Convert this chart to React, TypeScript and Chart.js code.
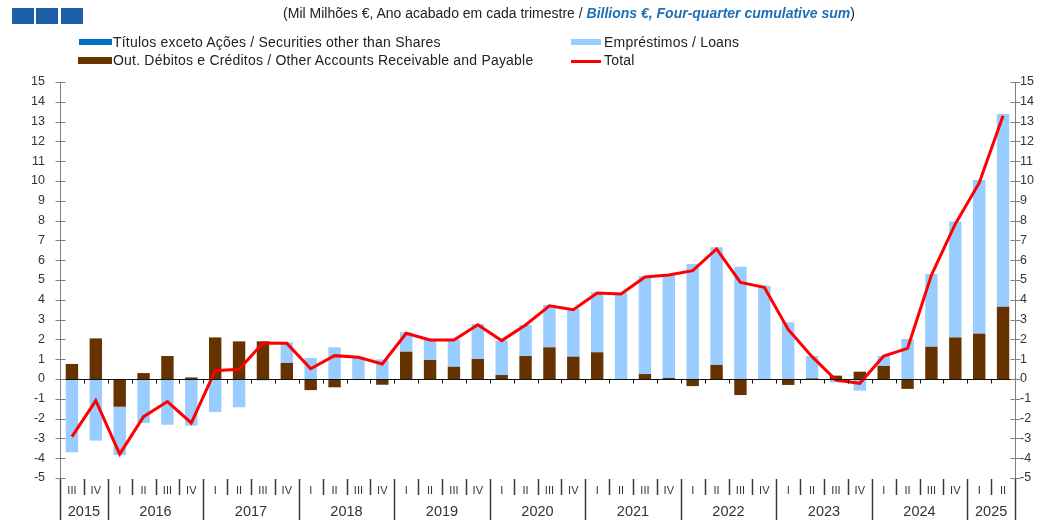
import React, { useEffect, useRef } from 'react';
import { Chart, registerables } from 'chart.js';

Chart.register(...registerables);

const quarterLabels = [
  'III', 'IV',
  'I', 'II', 'III', 'IV',
  'I', 'II', 'III', 'IV',
  'I', 'II', 'III', 'IV',
  'I', 'II', 'III', 'IV',
  'I', 'II', 'III', 'IV',
  'I', 'II', 'III', 'IV',
  'I', 'II', 'III', 'IV',
  'I', 'II', 'III', 'IV',
  'I', 'II', 'III', 'IV',
  'I', 'II',
];
const yearLabels = ['2015', '2016', '2017', '2018', '2019', '2020', '2021', '2022', '2023', '2024', '2025'];
const yearQuarterCounts = [2, 4, 4, 4, 4, 4, 4, 4, 4, 4, 2];

const securities = [
  0, 0, 0, 0, 0, 0, 0, 0, 0, 0,
  0, 0, 0, 0, 0, 0, 0, 0, 0, 0,
  0, 0, 0, 0, 0, 0, 0, 0, 0, 0,
  0, 0, 0, 0, 0, 0, 0, 0, 0, 0,
];
const otherAccounts = [
  0.76, 2.05, -1.40, 0.30, 1.16, 0.08, 2.10, 1.90, 1.90, 0.81,
  -0.56, -0.42, -0.05, -0.29, 1.38, 0.96, 0.62, 1.01, 0.20, 1.16,
  1.60, 1.13, 1.35, -0.05, 0.25, 0.05, -0.36, 0.71, -0.81, -0.05,
  -0.30, 0.03, 0.17, 0.37, 0.66, -0.50, 1.63, 2.10, 2.29, 3.65,
];
const loans = [
  -3.70, -3.11, -2.44, -2.22, -2.31, -2.36, -1.67, -1.43, -0.08, 1.04,
  1.06, 1.60, 1.06, 0.99, 0.98, 1.01, 1.38, 1.77, 1.74, 1.57,
  2.14, 2.41, 3.03, 4.35, 4.95, 5.20, 5.81, 5.94, 5.67, 4.71,
  2.86, 1.13, -0.17, -0.59, 0.50, 2.02, 3.67, 5.85, 7.76, 9.73,
];
const total = [
  -2.91, -1.09, -3.79, -1.90, -1.14, -2.22, 0.42, 0.49, 1.82, 1.80,
  0.52, 1.18, 1.10, 0.76, 2.31, 1.97, 1.97, 2.74, 1.94, 2.73,
  3.70, 3.50, 4.34, 4.29, 5.15, 5.25, 5.47, 6.57, 4.88, 4.63,
  2.50, 1.13, -0.05, -0.22, 1.16, 1.55, 5.25, 7.83, 9.90, 13.30,
];

const Y_MIN = -5;
const Y_MAX = 15;

const categories = quarterLabels.map((q, i) => `${i}-${q}`);

const FONT = "'Liberation Sans', Arial, sans-serif";

const axesPlugin = {
  id: 'customAxes',
  afterDatasetsDraw(chart: any) {
    const { ctx, chartArea } = chart;
    const xs = chart.scales.x;
    const ys = chart.scales.y;
    const n = quarterLabels.length;
    const half = (xs.getPixelForValue(1) - xs.getPixelForValue(0)) / 2;
    const L = Math.round(chartArea.left) + 0.5;
    const R = Math.round(chartArea.right) + 0.5;
    const top = ys.getPixelForValue(Y_MAX);
    const bottom = ys.getPixelForValue(Y_MIN);
    const seg = (x1: number, y1: number, x2: number, y2: number) => {
      ctx.beginPath();
      ctx.moveTo(x1, y1);
      ctx.lineTo(x2, y2);
      ctx.stroke();
    };
    ctx.save();
    // zero line
    const y0 = Math.round(ys.getPixelForValue(0)) + 0.5;
    ctx.strokeStyle = '#111';
    ctx.lineWidth = 1;
    seg(L, y0, R, y0);
    for (let i = 1; i < n; i++) {
      const bx = Math.round(xs.getPixelForValue(i) - half) + 0.5;
      seg(bx, y0, bx, y0 + 4);
    }
    // y axes
    ctx.strokeStyle = '#808080';
    ctx.lineWidth = 1;
    seg(L, top, L, bottom);
    seg(R, top, R, bottom);
    for (let v = Y_MIN; v <= Y_MAX; v++) {
      const py = Math.round(ys.getPixelForValue(v)) + 0.5;
      seg(L - 5, py, L + 5, py);
      seg(R - 5, py, R + 5, py);
    }
    // x axis separators and labels
    const yearStarts = new Set<number>();
    let acc = 0;
    yearStarts.add(0);
    yearQuarterCounts.forEach((c) => {
      acc += c;
      yearStarts.add(acc);
    });
    ctx.strokeStyle = '#3a3a3a';
    ctx.lineWidth = 1.5;
    for (let i = 0; i <= n; i++) {
      const bx = Math.round(xs.getPixelForValue(0) - half + i * 2 * half) + 0.5;
      const isYear = yearStarts.has(i);
      seg(bx, bottom + 1, bx, isYear ? 520 : bottom + 17);
    }
    ctx.fillStyle = '#333';
    ctx.textAlign = 'center';
    ctx.textBaseline = 'middle';
    ctx.font = `11px ${FONT}`;
    for (let i = 0; i < n; i++) {
      ctx.fillText(quarterLabels[i], xs.getPixelForValue(i), bottom + 13);
    }
    ctx.font = `14.5px ${FONT}`;
    let start = 0;
    yearQuarterCounts.forEach((c, k) => {
      const x1 = xs.getPixelForValue(start) - half;
      const x2 = xs.getPixelForValue(start + c - 1) + half;
      ctx.fillText(yearLabels[k], (x1 + x2) / 2, bottom + 34);
      start += c;
    });
    ctx.restore();
  },
};

export default function App() {
  const canvasRef = useRef<HTMLCanvasElement | null>(null);

  useEffect(() => {
    if (!canvasRef.current) return;
    const tickFont = { family: FONT, size: 12.5 };
    const chart = new Chart(canvasRef.current, {
      type: 'bar',
      data: {
        labels: categories,
        datasets: [
          {
            type: 'line',
            label: 'Total',
            data: total,
            borderColor: '#ff0000',
            backgroundColor: '#ff0000',
            borderWidth: 3,
            pointRadius: 0,
            tension: 0,
            stack: 'line',
            order: 0,
          } as any,
          {
            label: 'Títulos exceto Ações / Securities other than Shares',
            data: securities,
            backgroundColor: '#0070c0',
            stack: 'bars',
            order: 1,
          },
          {
            label: 'Out. Débitos e Créditos / Other Accounts Receivable and Payable',
            data: otherAccounts,
            backgroundColor: '#663300',
            stack: 'bars',
            order: 1,
          },
          {
            label: 'Empréstimos / Loans',
            data: loans,
            backgroundColor: '#99ccff',
            stack: 'bars',
            order: 1,
          },
        ],
      },
      options: {
        responsive: false,
        animation: false,
        layout: { padding: { top: 82, bottom: 42, left: 0, right: 0 } },
        datasets: { bar: { categoryPercentage: 1, barPercentage: 0.52 } },
        plugins: { legend: { display: false }, tooltip: { enabled: false } },
        scales: {
          x: { type: 'category', display: false, stacked: true },
          y: {
            position: 'left',
            stacked: true,
            min: Y_MIN,
            max: Y_MAX,
            ticks: { stepSize: 1, padding: 15, font: tickFont, color: '#333' },
            grid: { display: false, drawTicks: false },
            border: { display: false },
            afterFit: (s: any) => {
              s.width = 60;
            },
          },
          y2: {
            position: 'right',
            min: Y_MIN,
            max: Y_MAX,
            ticks: { stepSize: 1, padding: 5, font: tickFont, color: '#333' },
            grid: { display: false, drawTicks: false },
            border: { display: false },
            afterFit: (s: any) => {
              s.width = 30;
            },
          },
        },
      } as any,
      plugins: [axesPlugin],
    });
    return () => chart.destroy();
  }, []);

  const legendText: React.CSSProperties = {
    position: 'absolute',
    fontFamily: FONT,
    fontSize: 14,
    letterSpacing: '0.2px',
    lineHeight: '16px',
    color: '#222',
    whiteSpace: 'nowrap',
  };
  const sq: React.CSSProperties = { position: 'absolute', top: 8, width: 22, height: 16, background: '#1f5ea8' };

  return (
    <div style={{ position: 'absolute', left: 0, top: 0, width: 1045, height: 520, background: '#fff' }}>
      <canvas ref={canvasRef} width={1045} height={520} style={{ display: 'block', position: 'absolute', left: 0, top: 0 }} />
      <div style={{ ...sq, left: 12 }} />
      <div style={{ ...sq, left: 36 }} />
      <div style={{ ...sq, left: 61 }} />
      <div
        style={{
          position: 'absolute',
          top: 4,
          left: 569,
          transform: 'translateX(-50%)',
          fontFamily: FONT,
          fontSize: 14,
          lineHeight: '18px',
          color: '#222',
          whiteSpace: 'nowrap',
        }}
      >
        (Mil Milhões €, Ano acabado em cada trimestre /{' '}
        <span style={{ color: '#1f6fb5', fontStyle: 'italic', fontWeight: 'bold' }}>Billions €, Four-quarter cumulative sum</span>)
      </div>
      <div style={{ position: 'absolute', left: 79, top: 39, width: 33, height: 6, background: '#0070c0' }} />
      <div style={{ ...legendText, left: 113, top: 34 }}>Títulos exceto Ações / Securities other than Shares</div>
      <div style={{ position: 'absolute', left: 78, top: 57, width: 34, height: 7, background: '#663300' }} />
      <div style={{ ...legendText, left: 113, top: 52 }}>Out. Débitos e Créditos / Other Accounts Receivable and Payable</div>
      <div style={{ position: 'absolute', left: 571, top: 39, width: 30, height: 6, background: '#99ccff' }} />
      <div style={{ ...legendText, left: 604, top: 34 }}>Empréstimos / Loans</div>
      <div style={{ position: 'absolute', left: 571, top: 60, width: 30, height: 3, background: '#ff0000' }} />
      <div style={{ ...legendText, left: 604, top: 52 }}>Total</div>
    </div>
  );
}
